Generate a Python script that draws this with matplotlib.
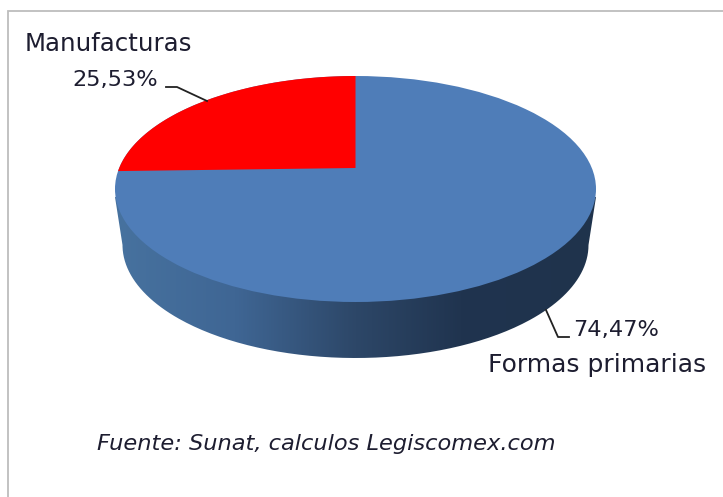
import numpy as np
import matplotlib
matplotlib.use("Agg")
import matplotlib.pyplot as plt
from matplotlib.patches import Polygon, Ellipse, PathPatch
from matplotlib.path import Path
from matplotlib.colors import LinearSegmentedColormap

plt.rcParams["font.family"] = ["DejaVu Sans"]

categories = ["Manufacturas", "Formas primarias"]
shares = [25.53, 74.47]
value_labels = ["25,53%", "74,47%"]
source_note = "Fuente: Sunat, calculos Legiscomex.com"
slice_colors = ["#ff0000", "#4f7db8"]

W, H = 723, 497
fig = plt.figure(figsize=(W / 100, H / 100), dpi=100, facecolor="white")
ax = fig.add_axes([0, 0, 1, 1])
ax.set_xlim(0, W)
ax.set_ylim(H, 0)
ax.axis("off")

ax.plot([8, 8, W], [H, 11, 11], color="#bdbdbd", lw=1.3, solid_joinstyle="miter", zorder=1)

cx, cy, rx, ry = 355.5, 189, 240.5, 113
apex_y = 168
depth_cy, depth_rx = 245, 233
foreshorten = 0.88

# side wall
t = np.radians(np.linspace(0, 180, 200))
side_lower = np.column_stack([cx + depth_rx * np.cos(t), depth_cy + ry * np.sin(t)])
side = np.vstack([[[cx + rx, cy + 8]], side_lower, [[cx - rx, cy + 8]]])
stops = [(0.0, "#47729f"), (0.25, "#3f6694"), (0.5, "#2d4768"), (0.72, "#20344f"), (1.0, "#1f334c")]
cmap = LinearSegmentedColormap.from_list("side", stops)
grad = np.linspace(0, 1, 256).reshape(1, -1)
im = ax.imshow(grad, cmap=cmap, extent=[cx - rx, cx + rx, 370, 180], aspect="auto", zorder=2)
clip = PathPatch(Path(np.vstack([side, side[0]])), transform=ax.transData, fc="none", ec="none")
ax.add_patch(clip)
im.set_clip_path(clip)
ax.set_xlim(0, W)
ax.set_ylim(H, 0)

# top face
ax.add_patch(Ellipse((cx, cy), 2 * rx, 2 * ry, fc=slice_colors[1], ec="none", zorder=3))

# red slice
sweep = shares[0] / sum(shares) * 360 * foreshorten
a = np.radians(np.linspace(90, 90 + sweep, 120))
arc = np.column_stack([cx + rx * np.cos(a), cy - ry * np.sin(a)])
ax.add_patch(Polygon(np.vstack([[cx, apex_y], arc]), closed=True, fc=slice_colors[0], ec="none", zorder=4))

# leader lines
ax.plot([166, 177, 207], [87, 87, 101], color="#222222", lw=1.3, zorder=5)
ax.plot([546, 558, 569], [310, 337, 337], color="#222222", lw=1.3, zorder=5)

txt = "#1d1d30"
ax.text(25, 44, categories[0], fontsize=17.6, color=txt, va="center", ha="left", zorder=6)
ax.text(158, 80, value_labels[0], fontsize=16.2, color=txt, va="center", ha="right", zorder=6)
ax.text(573, 330, value_labels[1], fontsize=16.2, color=txt, va="center", ha="left", zorder=6)
ax.text(488, 365, categories[1], fontsize=18, color=txt, va="center", ha="left", zorder=6)
ax.text(97, 444, source_note, fontsize=16.2, style="italic", color=txt, va="center", ha="left", zorder=6)

fig.savefig("out.png", dpi=100, facecolor="white")
